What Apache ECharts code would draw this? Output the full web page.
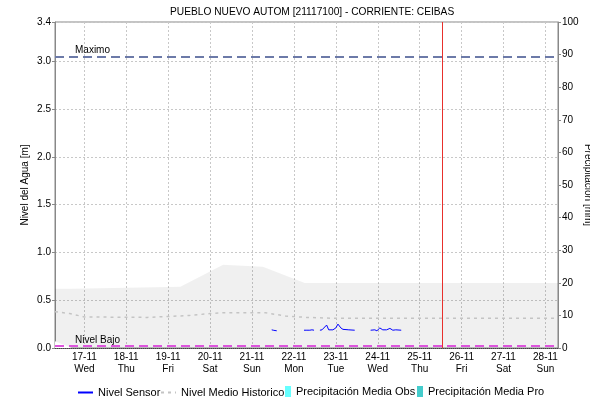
<!DOCTYPE html>
<html>
<head>
<meta charset="utf-8">
<script src="https://cdn.jsdelivr.net/npm/echarts@6/dist/echarts.min.js"></script>
<style>
  html, body { margin: 0; padding: 0; background: #fff; }
  #chart { width: 590px; height: 402px; }
</style>
</head>
<body>
<div id="chart"></div>
<script>
// Days are counted from 16-11 00:00 (17-11 = 1, 18-11 = 2, ...)
const dayTicks = [1, 2, 3, 4, 5, 6, 7, 8, 9, 10, 11, 12];
const dayLabels = ['17-11', '18-11', '19-11', '20-11', '21-11', '22-11', '23-11', '24-11', '25-11', '26-11', '27-11', '28-11'];
const weekdayLabels = ['Wed', 'Thu', 'Fri', 'Sat', 'Sun', 'Mon', 'Tue', 'Wed', 'Thu', 'Fri', 'Sat', 'Sun'];
const startDay = 0.3;
const endDay = 12.3;

// Sensor water level [m]; null marks gaps in the record
const sensorDays = [5.47, 5.52, 5.59, 5.7,
  6.24, 6.31, 6.34, 6.38, 6.43, 6.45, 6.48, 6.55,
  6.62, 6.67, 6.78, 6.83, 6.93, 7.0, 7.05, 7.12, 7.17, 7.31, 7.45, 7.6,
  7.83, 7.93, 7.98, 8.05, 8.12, 8.21, 8.29, 8.36, 8.43, 8.56];
const sensorLevels = [0.19, 0.185, 0.18, null,
  0.186, 0.186, 0.195, 0.186, 0.19, 0.21, 0.186, null,
  0.186, 0.19, 0.24, 0.19, 0.19, 0.21, 0.25, 0.21, 0.195, 0.19, 0.186, null,
  0.186, 0.19, 0.18, 0.21, 0.19, 0.19, 0.205, 0.186, 0.19, 0.186];

// Historic mean level [m]
const meanDays = [0.3, 0.65, 1.0, 2.5, 3.0, 3.5, 4.0, 4.3, 5.3, 5.8, 6.3, 7.0, 12.3];
const meanLevels = [0.38, 0.36, 0.325, 0.32, 0.33, 0.34, 0.36, 0.37, 0.37, 0.335, 0.32, 0.31, 0.31];

// Historic range band [m]
const bandDays = [0.3, 0.7, 3.29, 4.31, 5.26, 6.26, 12.3];
const bandLow = [0.07, 0, 0, 0, 0, 0, 0];
const bandHigh = [0.62, 0.62, 0.64, 0.87, 0.85, 0.68, 0.68];

// Precipitation [mm]
const precipObs = [];
const precipPro = [];

// Reference levels [m] and current time [day]
const nivelMaximo = 3.05;
const nivelBajo = 0.02;
const nowDay = 9.54;

const font = "'Liberation Sans', Arial, sans-serif";
const chart = echarts.init(document.getElementById('chart'));

const pairs = (xs, ys) => xs.map((x, i) => [x, ys[i]]);
const legendText = { fontSize: 11, color: '#000', fontFamily: font };

chart.setOption({
  animation: false,
  textStyle: { fontFamily: font },
  title: {
    text: 'PUEBLO NUEVO AUTOM [21117100] - CORRIENTE: CEIBAS',
    left: 165, top: 2,
    textStyle: { fontSize: 10.2, fontWeight: 'normal', color: '#000', fontFamily: font }
  },
  legend: [
    { left: 77, top: 387, padding: 0, itemWidth: 15, itemHeight: 10, textStyle: legendText,
      itemStyle: { opacity: 0 }, data: ['Nivel Sensor'] },
    { left: 160, top: 387, padding: 0, itemWidth: 15, itemHeight: 10, textStyle: legendText,
      itemStyle: { opacity: 0 }, data: ['Nivel Medio Historico'] },
    { left: 285, top: 386, padding: 0, itemWidth: 6, itemHeight: 11, textStyle: legendText,
      data: [{ name: 'Precipitación Media Obs', icon: 'rect' }] },
    { left: 417, top: 386, padding: 0, itemWidth: 6, itemHeight: 11, textStyle: legendText,
      data: [{ name: 'Precipitación Media Pro', icon: 'rect' }] }
  ],
  grid: {
    left: 55, right: 32, top: 22, bottom: 54,
    outerBoundsMode: 'none',
    show: true, borderColor: '#888', borderWidth: 1, backgroundColor: 'transparent'
  },
  xAxis: {
    type: 'value', min: startDay, max: endDay,
    axisLine: { lineStyle: { color: '#444', type: [1, 1] } },
    axisTick: { show: false, customValues: dayTicks },
    splitLine: { show: true, lineStyle: { color: '#c8c8c8', type: [2, 2] } },
    axisLabel: {
      customValues: dayTicks,
      fontSize: 10, color: '#000', margin: 3, lineHeight: 12,
      formatter: v => {
        const i = dayTicks.indexOf(Math.round(v));
        return i >= 0 ? dayLabels[i] + '\n' + weekdayLabels[i] : '';
      }
    }
  },
  yAxis: [
    {
      type: 'value', min: 0, max: 3.41, interval: 0.5,
      name: 'Nivel del Agua [m]', nameLocation: 'middle', nameGap: 25, nameRotate: 90,
      nameMoveOverlap: false,
      nameTextStyle: { fontSize: 10, color: '#000', fontFamily: font },
      axisLine: { show: true, lineStyle: { color: '#888' } },
      axisTick: { show: true, length: 3, lineStyle: { color: '#888' } },
      axisLabel: { fontSize: 10, color: '#000', margin: 4, formatter: v => v.toFixed(1) },
      splitLine: { show: true, lineStyle: { color: '#c8c8c8', type: [2, 2] } }
    },
    {
      type: 'value', min: 0, max: 100, interval: 10, position: 'right',
      name: 'Precipitación [mm]', nameLocation: 'middle', nameGap: 25, nameRotate: -90,
      nameMoveOverlap: false,
      nameTextStyle: { fontSize: 10, color: '#000', fontFamily: font },
      axisLine: { show: true, lineStyle: { color: '#888' } },
      axisTick: { show: true, length: 3, lineStyle: { color: '#888' } },
      axisLabel: { fontSize: 10, color: '#000', margin: 4 },
      splitLine: { show: false }
    }
  ],
  series: [
    {
      // upper edge of the historic range, filled down to zero
      name: 'bandHigh', type: 'line', symbol: 'none', silent: true,
      lineStyle: { opacity: 0 },
      areaStyle: { color: 'rgba(0,0,0,0.06)', opacity: 1 },
      data: pairs(bandDays, bandHigh), z: 1
    },
    {
      // lower edge of the historic range, cleared back to white
      name: 'bandLow', type: 'line', symbol: 'none', silent: true,
      lineStyle: { opacity: 0 },
      areaStyle: { color: '#ffffff', opacity: 1 },
      data: pairs(bandDays, bandLow), z: 1
    },
    {
      name: 'Nivel Medio Historico', type: 'line', symbol: 'none',
      color: '#c4c4c4',
      lineStyle: { color: '#c4c4c4', width: 1.5, type: [3, 4] },
      data: pairs(meanDays, meanLevels), z: 2,
      markLine: {
        silent: true, symbol: 'none', animation: false,
        data: [
          {
            yAxis: nivelMaximo,
            lineStyle: { color: '#6c7aa8', width: 2, type: [9, 5] },
            label: { formatter: 'Maximo', position: 'insideStartTop', distance: [20, 1], fontSize: 10, color: '#000', fontFamily: font }
          },
          {
            yAxis: nivelBajo,
            lineStyle: { color: '#dd55dd', width: 2, type: [9, 5] },
            label: { formatter: 'Nivel Bajo', position: 'insideStartTop', distance: [20, 1], fontSize: 10, color: '#000', fontFamily: font }
          }
        ]
      }
    },
    {
      name: 'Nivel Sensor', type: 'line', symbol: 'none', connectNulls: false,
      color: '#0000ff',
      lineStyle: { color: '#0000ff', width: 1 },
      data: pairs(sensorDays, sensorLevels), z: 4,
      markLine: {
        silent: true, symbol: 'none', animation: false,
        lineStyle: { color: '#e8302c', width: 1, type: 'solid' },
        label: { show: false },
        data: [{ xAxis: nowDay }]
      }
    },
    {
      name: 'Precipitación Media Obs', type: 'bar', yAxisIndex: 1,
      itemStyle: { color: '#66ffff' }, data: precipObs
    },
    {
      name: 'Precipitación Media Pro', type: 'bar', yAxisIndex: 1,
      itemStyle: { color: '#44cccc' }, data: precipPro
    }
  ]
});
</script>
</body>
</html>
